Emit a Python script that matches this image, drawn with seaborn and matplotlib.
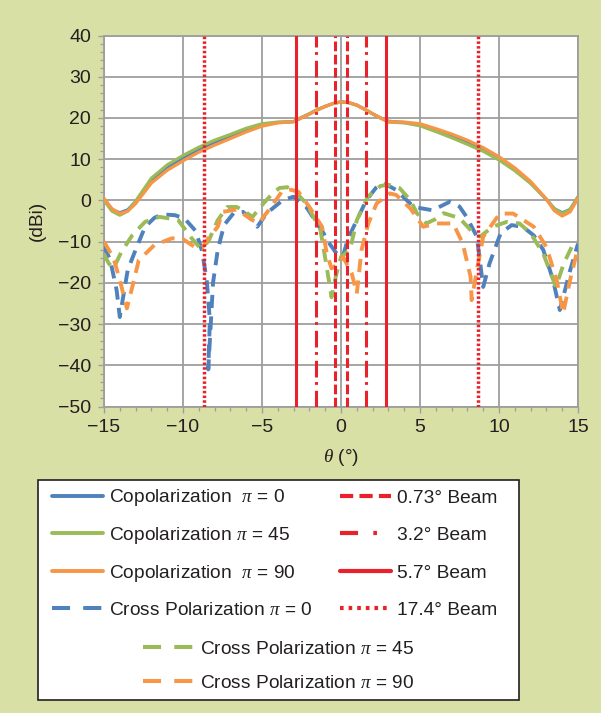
import matplotlib
matplotlib.use("Agg")
import matplotlib.pyplot as plt
from matplotlib.lines import Line2D
from matplotlib.patches import Rectangle
from matplotlib.ticker import MultipleLocator
import seaborn as sns
import pandas as pd

# ---------------- data ----------------
theta_co = [-15, -14.5, -14, -13.5, -13, -12, -11, -10, -9, -8, -7, -6, -5, -4, -3,
            -2.5, -2, -1.5, -1, -0.5, 0, 0.5, 1, 1.5, 2, 2.5, 3,
            4, 5, 6, 7, 8, 9, 10, 11, 12, 13, 13.5, 14, 14.5, 15]
co_pi0 = [0.3, -2.2, -3.0, -2.3, -0.3, 5.0, 8.1, 10.3, 12.4, 14.1, 15.4, 17.1, 18.3, 18.9, 19.1,
          20.1, 21.0, 22.0, 22.8, 23.5, 23.9, 23.7, 23.1, 22.1, 21.0, 20.0, 19.2,
          18.9, 18.3, 17.0, 15.6, 14.0, 12.2, 10.2, 7.5, 4.3, 0.2, -2.0, -3.0, -2.2, 0.8]
co_pi45 = [0.0, -2.6, -3.6, -2.6, -0.2, 5.4, 8.6, 10.9, 12.9, 14.6, 16.0, 17.5, 18.6, 19.0, 19.1,
           20.1, 21.0, 22.0, 22.8, 23.5, 23.9, 23.7, 23.1, 22.1, 21.0, 20.0, 19.0,
           18.8, 18.1, 16.7, 15.2, 13.6, 11.9, 9.8, 7.2, 4.1, 0.3, -2.0, -3.2, -2.2, 0.9]
co_pi90 = [0.5, -2.0, -3.2, -2.6, -0.8, 4.2, 7.3, 9.6, 11.7, 13.4, 15.0, 16.6, 18.0, 18.8, 19.1,
           20.0, 20.9, 21.9, 22.8, 23.5, 23.9, 23.7, 23.1, 22.1, 21.0, 20.0, 19.1,
           19.0, 18.6, 17.4, 16.1, 14.6, 12.8, 10.6, 7.9, 4.6, 0.3, -2.5, -3.8, -2.8, 0.5]

x_cross_pi0 = [-15, -14.6, -14.2, -14.0, -13.5, -13.0, -12.4, -11.8, -11.3, -10.5, -9.9, -9.2,
               -8.8, -8.5, -8.3, -8.4, -8.1, -7.8, -7.4, -6.8, -6.2, -5.7, -5.3, -4.7, -3.7,
               -3.0, -2.2, -1.1, -0.9, -0.2, 0.1, 0.45, 1.0, 1.6, 2.2, 2.7, 3.5, 4.6, 5.8,
               6.9, 7.5, 7.95, 8.6, 9.0, 9.4, 10.1, 10.8, 11.5, 12.2, 12.8, 13.4, 13.85,
               14.5, 15]
cross_pi0 = [-10.9, -14.6, -21.8, -28.3, -16.9, -12.0, -6.4, -4.2, -3.4, -3.6, -4.4, -7.4,
             -12.2, -19.3, -29.0, -41.0, -20.0, -12.0, -6.0, -3.1, -2.8, -4.5, -6.4, -3.1, 0.0,
             0.9, -1.6, -8.0, -9.6, -13.3, -13.8, -9.2, -4.8, 0.0, 3.0, 4.2, 2.5, -1.6, -2.4,
             -0.3, -1.5, -4.0, -8.8, -21.0, -15.3, -8.0, -6.0, -6.4, -8.5, -12.0, -19.0, -26.6,
             -17.0, -10.5]

x_cross_pi45 = [-15, -14.7, -14.4, -13.9, -13.2, -12.4, -11.5, -11.0, -10.3, -9.45, -8.9,
                -8.4, -7.8, -7.2, -6.6, -6.2, -5.6, -4.9, -4.3, -3.9, -3.4, -3.0, -2.2, -1.3,
                -1.0, -0.7, -0.6, -0.3, 0.0, 0.57, 1.0, 1.7, 2.5, 3.0, 3.7, 4.4, 4.8, 5.4,
                6.0, 6.5, 7.5, 8.4, 8.8, 9.6, 10.5, 11.3, 12.0, 12.8, 13.6, 14.1, 14.7, 15]
cross_pi45 = [-13.0, -15.3, -16.5, -12.5, -8.4, -5.2, -4.0, -4.3, -4.8, -9.2, -11.6,
              -10.0, -4.8, -1.6, -1.6, -2.4, -4.0, -0.7, 1.8, 3.0, 3.2, 2.5, -0.7, -7.2,
              -14.0, -21.0, -23.5, -18.0, -13.7, -12.0, -4.8, 0.9, 3.5, 3.8, 3.0, 0.0, -3.1, -5.6,
              -4.5, -3.1, -4.3, -8.0, -8.8, -6.4, -5.2, -5.6, -8.0, -12.9, -21.0, -15.3, -10.5, -10.0]

x_cross_pi90 = [-15, -14.4, -14.0, -13.55, -13.1, -12.8, -11.8, -10.7, -10.0, -9.3, -8.8,
                -8.4, -7.8, -7.5, -6.6, -5.6, -5.2, -4.5, -3.75, -3.2, -2.7, -2.0, -1.2,
                -0.9, -0.6, -0.2, 0.13, 0.68, 1.0, 1.3, 1.73, 2.26, 3.1, 3.5, 4.4, 5.2, 6.05,
                7.1, 7.7, 8.2, 8.27, 8.6, 9.0, 10.05, 10.9, 12.2, 13.0, 13.65, 14.06, 14.5, 15]
cross_pi90 = [-10.0, -14.0, -19.3, -26.2, -19.3, -14.5, -10.8, -9.2, -9.4, -11.2, -11.6,
              -9.2, -6.4, -2.8, -2.2, -4.8, -5.5, -2.0, 2.1, 2.6, 2.1, -1.6, -6.4,
              -12.9, -16.5, -15.5, -13.7, -17.7, -22.6, -12.0, -5.6, -0.7, 1.7, 1.3, -2.0, -6.4, -5.6,
              -5.6, -10.4, -18.5, -24.2, -16.9, -8.8, -3.2, -3.2, -6.4, -11.3, -19.3, -27.4, -19.3, -11.5]

beam_widths = [0.73, 3.2, 5.7, 17.4]  # degrees, lines drawn at +/- width/2

co_labels = ["Copolarization  $\\pi$ = 0", "Copolarization $\\pi$ = 45", "Copolarization  $\\pi$ = 90"]
cross_labels = ["Cross Polarization $\\pi$ = 0", "Cross Polarization $\\pi$ = 45", "Cross Polarization $\\pi$ = 90"]
beam_labels = ["0.73° Beam", "3.2° Beam", "5.7° Beam", "17.4° Beam"]

# ---------------- style ----------------
sns.set_theme(style="white")
plt.rcParams["font.family"] = ["Liberation Sans", "DejaVu Sans"]
plt.rcParams["mathtext.fontset"] = "custom"
plt.rcParams["mathtext.it"] = "Liberation Serif:italic"
plt.rcParams["mathtext.rm"] = "Liberation Sans"
plt.rcParams["lines.scale_dashes"] = False

BG = "#d8e0a6"
BLUE, GREEN, ORANGE = "#4f81bd", "#9bbb59", "#f79646"
RED = "#e8212a"
GRID = "#9e9e9e"
TXT = "#231f20"

fig = plt.figure(figsize=(6.01, 7.13), dpi=100, facecolor=BG)
ax = fig.add_axes([104 / 601, 1 - 406.5 / 713, 474 / 601, 371 / 713])
ax.set_facecolor("white")

co_style = dict(lw=2.3, solid_capstyle="round")
cross_style = dict(lw=2.8, linestyle=(0, (9.5, 6.0)))

for ys, c in zip([co_pi0, co_pi45, co_pi90], [BLUE, GREEN, ORANGE]):
    df = pd.DataFrame({"theta": theta_co, "gain": ys})
    sns.lineplot(data=df, x="theta", y="gain", ax=ax, color=c, estimator=None,
                 errorbar=None, sort=False, zorder=3, **co_style)

for xs, ys, c in zip([x_cross_pi0, x_cross_pi45, x_cross_pi90],
                     [cross_pi0, cross_pi45, cross_pi90], [BLUE, GREEN, ORANGE]):
    df = pd.DataFrame({"theta": xs, "gain": ys})
    sns.lineplot(data=df, x="theta", y="gain", ax=ax, color=c, estimator=None,
                 errorbar=None, sort=False, zorder=3, **cross_style)

beam_ls = [(0, (7.0, 2.5)), (0, (12.0, 4.3, 2.0, 3.3)), "-", (0, (1.8, 1.6))]
beam_lw = [2.2, 2.2, 2.2, 2.5]
for w, ls, lw in zip(beam_widths, beam_ls, beam_lw):
    for s in (-1, 1):
        ax.axvline(s * w / 2, color=RED, lw=lw, linestyle=ls, zorder=4)

ax.set_xlim(-15, 15)
ax.set_ylim(-50, 40)
ax.set_xticks(range(-15, 16, 5))
ax.set_yticks(range(-50, 41, 10))
ax.xaxis.set_minor_locator(MultipleLocator(1))
ax.yaxis.set_minor_locator(MultipleLocator(2))
ax.grid(True, which="major", color=GRID, lw=1.3)
ax.grid(False, which="minor")
ax.set_axisbelow(True)
for sp in ax.spines.values():
    sp.set_color(GRID)
    sp.set_linewidth(1.3)
ax.tick_params(which="major", direction="out", length=4.3, width=1.0, color=GRID,
               labelsize=14, labelcolor=TXT, pad=5)
ax.tick_params(which="minor", direction="out", length=2.6, width=0.9, color=GRID)
ax.tick_params(axis="x", which="both", bottom=True)
ax.tick_params(axis="y", which="both", left=True)

ax.set_xlabel("$\\theta$ (°)", fontsize=13.8, color=TXT)
ax.set_ylabel("(dBi)", fontsize=13.8, color=TXT)
ax.xaxis.set_label_coords(0.5, -0.110)
ax.yaxis.set_label_coords(-0.123, 0.5)

# ---------------- legend ----------------
fig.patches.append(Rectangle((38 / 601, 1 - 700 / 713), 481 / 601, 220 / 713,
                             transform=fig.transFigure, facecolor="white",
                             edgecolor=TXT, lw=1.2, zorder=0))

leg_cross = dict(lw=2.9, linestyle=(0, (13.0, 9.5)))
h_left = [Line2D([], [], color=c, lw=2.8) for c in (BLUE, GREEN, ORANGE)]
h_left.append(Line2D([], [], color=BLUE, **leg_cross))
l_left = co_labels + [cross_labels[0]]
leg_beam_ls = [(0, (9.5, 4.5)), (0, (13.0, 11.0, 2.6, 20.0)), "-", (0, (2.6, 3.6))]
h_right = [Line2D([], [], color=RED, lw=3.0, linestyle=ls) for ls in leg_beam_ls]
h_bot = [Line2D([], [], color=c, **leg_cross) for c in (GREEN, ORANGE)]

rows = [498, 535, 573, 610]
bot_rows = [649, 683]
leg_kw = dict(frameon=False, fontsize=13.8, handlelength=2.66, handletextpad=0.3,
              borderpad=0, borderaxespad=0, loc="center left")


def put(handle, label, xpx, ypx):
    lg = fig.legend([handle], [label], bbox_to_anchor=(xpx / 601, 1 - ypx / 713), **leg_kw)
    for t in lg.get_texts():
        t.set_color(TXT)
    return lg


for h, lab, y in zip(h_left, l_left, rows):
    put(h, lab, 52, y)
for h, lab, y in zip(h_right, beam_labels, rows):
    put(h, lab, 340, y)
for h, lab, y in zip(h_bot, cross_labels[1:], bot_rows):
    put(h, lab, 143, y)

fig.savefig("out.png", dpi=100, facecolor=BG)
